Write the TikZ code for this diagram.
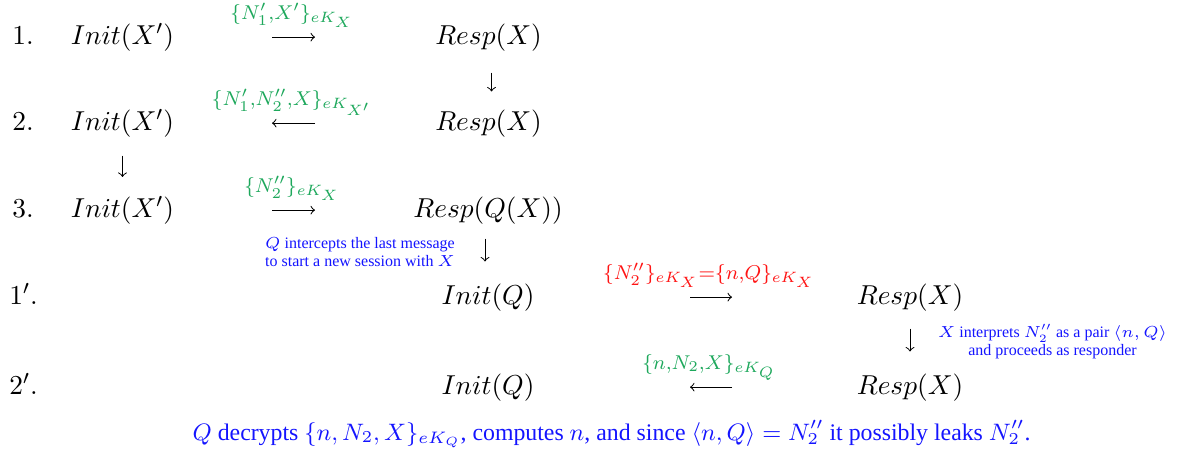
\documentclass[tikz,border=0pt]{standalone}
\usepackage{fix-cm}
\usepackage{fontspec}
\newfontfamily\tms{Liberation Serif}
\definecolor{lgreen}{RGB}{30,168,92}
\definecolor{nblue}{RGB}{20,20,255}
\definecolor{nred}{RGB}{255,20,20}
\begin{document}
\begin{tikzpicture}[x=0.4pt,y=-0.4pt,
  main/.style={inner sep=0pt, anchor=base, font=\fontsize{10.95}{13.6}\selectfont},
  lbl/.style={inner sep=0pt, anchor=base, text=lgreen, font=\fontsize{10.95}{13.6}\selectfont},
  redlbl/.style={lbl, text=nred},
  note/.style={inner sep=0pt, anchor=base, align=center, text=nblue, font=\tms\fontsize{6.4}{7.1}\selectfont},
  bottom/.style={inner sep=0pt, anchor=base, text=nblue, font=\tms\fontsize{9.52}{12}\selectfont},
  arr/.style={-to, line width=0.4pt},
]
\useasboundingbox (0,0) rectangle (1177,461);
% rows
\node[main] (l1) at (23,44) {$1.$};
\node[main] (i1) at (122.5,44) {$Init(X')$};
\node[main] (r1) at (488.5,44) {$Resp(X)$};
\node[main] (l2) at (23,130) {$2.$};
\node[main] (i2) at (122.5,130) {$Init(X')$};
\node[main] (r2) at (488.5,130) {$Resp(X)$};
\node[main] (l3) at (23,217) {$3.$};
\node[main] (i3) at (122.5,217) {$Init(X')$};
\node[main] (r3) at (488,217) {$Resp(Q(X))$};
\node[main] (l4) at (23.5,304) {$1'.$};
\node[main] (i4) at (488,304) {$Init(Q)$};
\node[main] (r4) at (910,304) {$Resp(X)$};
\node[main] (l5) at (23.5,394) {$2'.$};
\node[main] (i5) at (488,394) {$Init(Q)$};
\node[main] (r5) at (910,394) {$Resp(X)$};
% message labels
\node[lbl] (m1) at (292,19) {$\scriptstyle\{N'_1,X'\}_{eK_X}$};
\node[lbl] (m2) at (292,105) {$\scriptstyle\{N'_1,N''_2,X\}_{eK_{X'}}$};
\node[lbl] (m3) at (292,192) {$\scriptstyle\{N''_2\}_{eK_X}$};
\node[redlbl] (m4) at (709,279) {$\scriptstyle\{N''_2\}_{eK_X}=\{n,Q\}_{eK_X}$};
\node[lbl] (m5) at (709,369) {$\scriptstyle\{n,N_2,X\}_{eK_Q}$};
% horizontal arrows
\draw[arr] ([xshift=59.8pt,yshift=2.75pt]i1.base) -- ([xshift=-69.4pt,yshift=2.75pt]r1.base);
\draw[arr] ([xshift=-69.4pt,yshift=2.75pt]r2.base) -- ([xshift=59.8pt,yshift=2.75pt]i2.base);
\draw[arr] ([xshift=59.8pt,yshift=2.75pt]i3.base) -- ([xshift=-69.2pt,yshift=2.75pt]r3.base);
\draw[arr] ([xshift=80.8pt,yshift=2.75pt]i4.base) -- ([xshift=-71.2pt,yshift=2.75pt]r4.base);
\draw[arr] ([xshift=-71.2pt,yshift=2.75pt]r5.base) -- ([xshift=80.8pt,yshift=2.75pt]i5.base);
% vertical arrows
\draw[arr, shorten <=8.5pt, shorten >=7.0pt] ([xshift=1.2pt]r1.south) -- ([xshift=1.2pt]r2.north);
\draw[arr, shorten <=7.3pt, shorten >=7.4pt] (i2.south) -- (i3.north);
\draw[arr, shorten <=5.7pt, shorten >=8.6pt] ([xshift=-1.2pt]r3.south) -- ([xshift=-1.2pt]i4.north);
\draw[arr, shorten <=6.9pt, shorten >=8.6pt] (r4.south) -- (r5.north);
% notes
\node[note] (q1) at (360,266) {$Q$ intercepts the last message\\to start a new session with $X$};
\node[note] (q2) at (1052.5,355) {$X$ interprets $N''_2$ as a pair $\langle n,Q\rangle$\\and proceeds as responder};
\node[bottom] (bt) at (611.5,440) {$Q$ decrypts $\{n,N_2,X\}_{eK_Q}$, computes $n$, and since $\langle n,Q\rangle=N''_2$ it possibly leaks $N''_2$.};
\end{tikzpicture}
\end{document}
